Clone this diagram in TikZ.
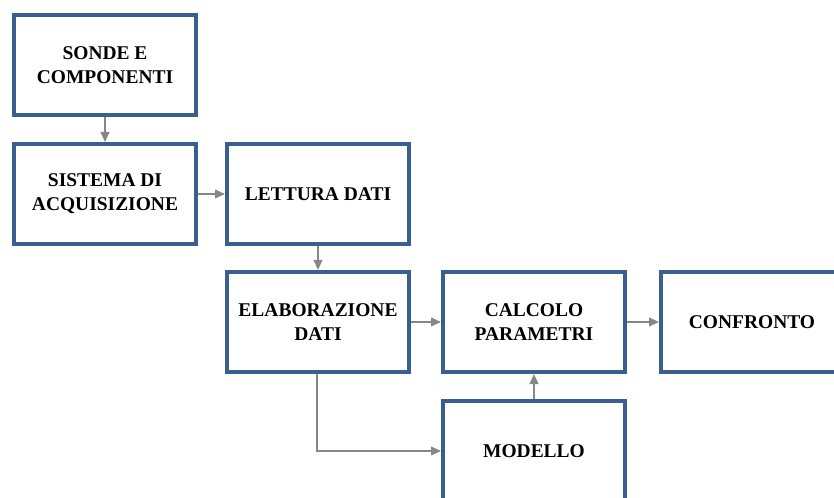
\documentclass[tikz,border=0pt]{standalone}
\usepackage{fontspec}
\setmainfont{Liberation Serif}
\usetikzlibrary{arrows.meta}
\definecolor{boxblue}{HTML}{3A5F8E}
\definecolor{arrowgray}{HTML}{868686}
\begin{document}
\begin{tikzpicture}[x=0.75pt,y=-0.75pt,
  blockbox/.style={draw=boxblue, line width=3pt, fill=white, minimum width=182*0.75pt, minimum height=100*0.75pt,
    inner sep=0pt, align=center, font=\fontsize{14.6}{18}\selectfont\bfseries},
  link/.style={draw=arrowgray, line width=1.3pt, -{Triangle[length=7.5pt,width=6.5pt]}}]
\useasboundingbox (0,0) rectangle (834,498);
\begin{scope}
\clip (0,0) rectangle (834,498);
\node[blockbox] (sonde) at (105,65) {SONDE E\\COMPONENTI};
\node[blockbox] (sistema) at (105,194) {SISTEMA DI\\ACQUISIZIONE};
\node[blockbox] (lettura) at (318,194) {LETTURA DATI};
\node[blockbox] (elab) at (318,322) {ELABORAZIONE\\DATI};
\node[blockbox] (calcolo) at (534,322) {CALCOLO\\PARAMETRI};
\node[blockbox] (confronto) at (752,322) {CONFRONTO};
\node[blockbox] (modello) at (534,451) {MODELLO};
\draw[link] (sonde.south) -- (sistema.north);
\draw[link] (sistema.east) -- (lettura.west);
\draw[link] (lettura.south) -- (elab.north);
\draw[link] (elab.east) -- (calcolo.west);
\draw[link] (calcolo.east) -- (confronto.west);
\draw[link] (modello.north) -- (calcolo.south);
\coordinate (elabout) at ([xshift=-1*0.75pt]elab.south);
\draw[link] (elabout) |- (modello.west);
\end{scope}
\end{tikzpicture}
\end{document}
